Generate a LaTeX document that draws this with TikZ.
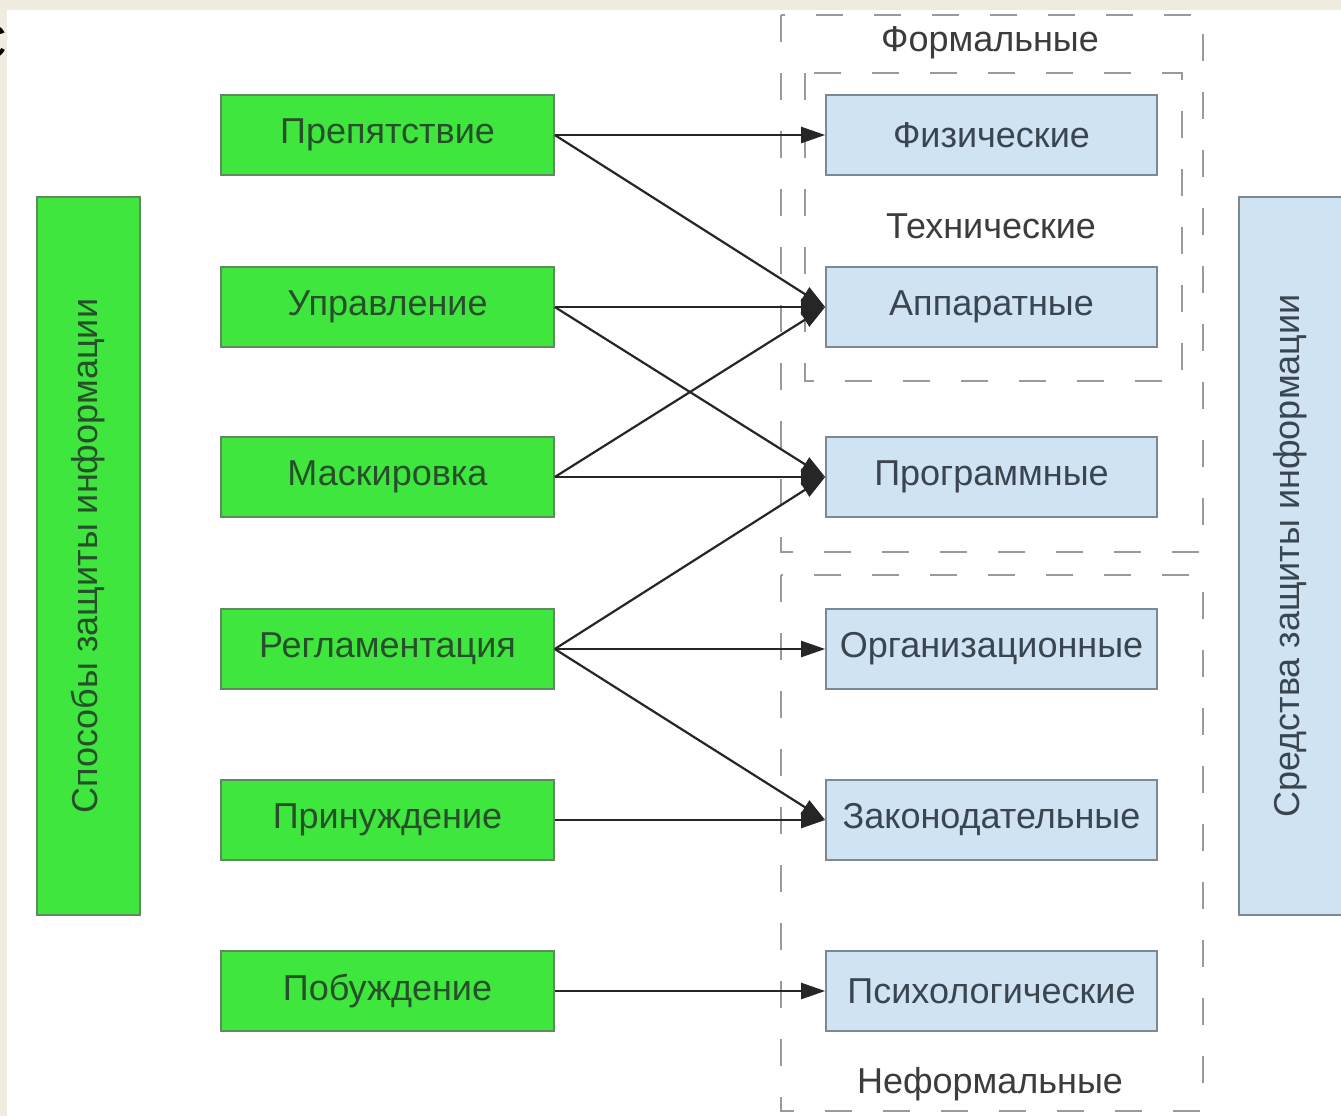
\documentclass[tikz,border=0pt]{standalone}
\usepackage{fontspec}
\setmainfont{Liberation Sans}
\usetikzlibrary{arrows.meta}
\definecolor{cream}{HTML}{F0ECDF}
\definecolor{gfill}{HTML}{3EE63E}
\definecolor{gline}{HTML}{5E8A5E}
\definecolor{gtext}{HTML}{27502A}
\definecolor{bfill}{HTML}{CFE3F2}
\definecolor{bline}{HTML}{7C8893}
\definecolor{btext}{HTML}{3A4550}
\definecolor{dline}{HTML}{9A9A9A}
\definecolor{ltext}{HTML}{3C3C3C}
\tikzset{
  gbox/.style={draw=gline, line width=0.8pt, fill=gfill, minimum width=166.5pt, minimum height=40pt, inner sep=0pt, text=gtext, font=\fontsize{18}{20}\selectfont},
  bbox/.style={draw=bline, line width=0.8pt, fill=bfill, minimum width=165.5pt, minimum height=40pt, inner sep=0pt, text=btext, font=\fontsize{18}{20}\selectfont},
  dashbox/.style={draw=dline, line width=1pt, dash pattern=on 13.5pt off 15.5pt},
  lbl/.style={text=ltext, inner sep=0pt, font=\fontsize{18}{20}\selectfont},
  conn/.style={draw=black!85, line width=1.1pt, -{Triangle[length=12pt,width=8pt]}}
}
\begin{document}
\begin{tikzpicture}[x=0.5pt,y=-0.5pt]
\useasboundingbox (0,0) rectangle (1341,1116);
\fill[white] (0,0) rectangle (1341,1116);
\fill[cream] (0,0) rectangle (1341,10);
\fill[cream] (0,0) rectangle (7,1116);
\node[anchor=east, inner sep=0pt, font=\fontsize{24}{24}\selectfont] (title) at (8,42) {С};

% dashed groups
\draw[dashbox] (781,15) rectangle (1203,552);
\draw[dashbox] (805,73) rectangle (1182,381);
\draw[dashbox] (781,575) rectangle (1203,1111);
\node[lbl] (formal) at (990,43) {Формальные};
\node[lbl] (tech) at (991,226) {Технические};
\node[lbl] (informal) at (990,1084) {Неформальные};

% left column
\node[gbox, minimum width=51.5pt, minimum height=359pt] (L) at (88.5,556) {};
\node[rotate=90, text=gtext, inner sep=0pt, font=\fontsize{18}{20}\selectfont] (Lt) at (L.center) {Способы защиты информации};

\node[gbox] (g1) at (387.5,135) {Препятствие};
\node[gbox] (g2) at (387.5,307) {Управление};
\node[gbox] (g3) at (387.5,477) {Маскировка};
\node[gbox] (g4) at (387.5,649) {Регламентация};
\node[gbox] (g5) at (387.5,820) {Принуждение};
\node[gbox] (g6) at (387.5,991) {Побуждение};

\node[bbox] (b1) at (991.5,135) {Физические};
\node[bbox] (b2) at (991.5,307) {Аппаратные};
\node[bbox] (b3) at (991.5,477) {Программные};
\node[bbox] (b4) at (991.5,649) {Организационные};
\node[bbox] (b5) at (991.5,820) {Законодательные};
\node[bbox] (b6) at (991.5,991) {Психологические};

% right column
\node[bbox, minimum width=51.5pt, minimum height=359pt] (R) at (1290.5,556) {};
\node[rotate=90, text=btext, inner sep=0pt, font=\fontsize{18}{20}\selectfont] (Rt) at (R.center) {Средства защиты информации};

% connectors
\draw[conn] (g1.east) -- (b1.west);
\draw[conn] (g1.east) -- (b2.west);
\draw[conn] (g2.east) -- (b2.west);
\draw[conn] (g2.east) -- (b3.west);
\draw[conn] (g3.east) -- (b2.west);
\draw[conn] (g3.east) -- (b3.west);
\draw[conn] (g4.east) -- (b3.west);
\draw[conn] (g4.east) -- (b4.west);
\draw[conn] (g4.east) -- (b5.west);
\draw[conn] (g5.east) -- (b5.west);
\draw[conn] (g6.east) -- (b6.west);
\end{tikzpicture}
\end{document}
